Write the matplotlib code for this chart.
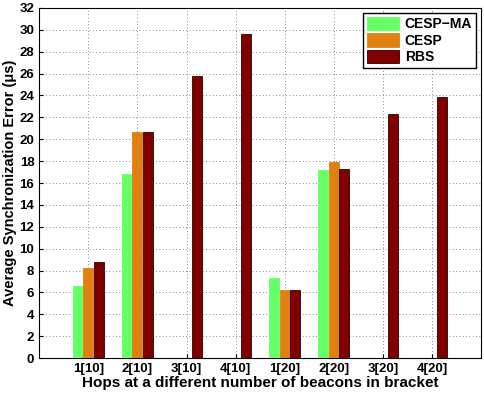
import matplotlib.pyplot as plt
import numpy as np

plt.rcParams['font.family'] = 'Liberation Sans'
plt.rcParams['font.weight'] = 'bold'

labels = ['1[10]', '2[10]', '3[10]', '4[10]', '1[20]', '2[20]', '3[20]', '4[20]']
cesp_ma = [6.55, 16.85, 0, 0, 7.3, 17.15, 0, 0]
cesp = [8.2, 20.65, 0, 0, 6.2, 17.9, 0, 0]
rbs = [8.75, 20.65, 25.8, 29.65, 6.2, 17.3, 22.35, 23.85]

names = ['CESP\u2212MA', 'CESP', 'RBS']
colors = ['#66ff66', '#e08010', '#800000']
edges = ['#66ff66', '#e08010', '#2a0000']

x = np.arange(1, len(labels) + 1)
w = 0.21

fig = plt.figure(figsize=(4.84, 3.94), dpi=100)
ax = fig.add_axes([0.081, 0.091, 0.913, 0.889])

for k, vals in enumerate([cesp_ma, cesp, rbs]):
    ax.bar(x + (k - 1) * w, vals, w * 0.97, color=colors[k], edgecolor=edges[k],
           linewidth=0.6, label=names[k], zorder=3)

ax.set_xlim(0, 9)
ax.set_ylim(0, 32)
ax.set_yticks(np.arange(0, 33, 2))
ax.set_xticks(x)
ax.set_xticklabels(labels)
ax.tick_params(labelsize=9.5, direction='in', length=3)
ax.grid(True, linestyle=(0, (1, 3)), color='#666666', linewidth=0.6)
ax.set_axisbelow(True)
ax.set_xlabel('Hops at a different number of beacons in bracket', fontsize=11,
              fontweight='bold', labelpad=1)
ax.set_ylabel('Average Synchronization Error (\u03bcs)', fontsize=10.5,
              fontweight='bold', labelpad=2)

leg = ax.legend(loc='upper right', fontsize=10, fancybox=False, framealpha=1,
                edgecolor='black', borderpad=0.3, labelspacing=0.15,
                handlelength=2.3, handleheight=1.1, handletextpad=0.4,
                borderaxespad=0.35)
leg.get_frame().set_linewidth(1.0)

fig.savefig('out.png', dpi=100)
